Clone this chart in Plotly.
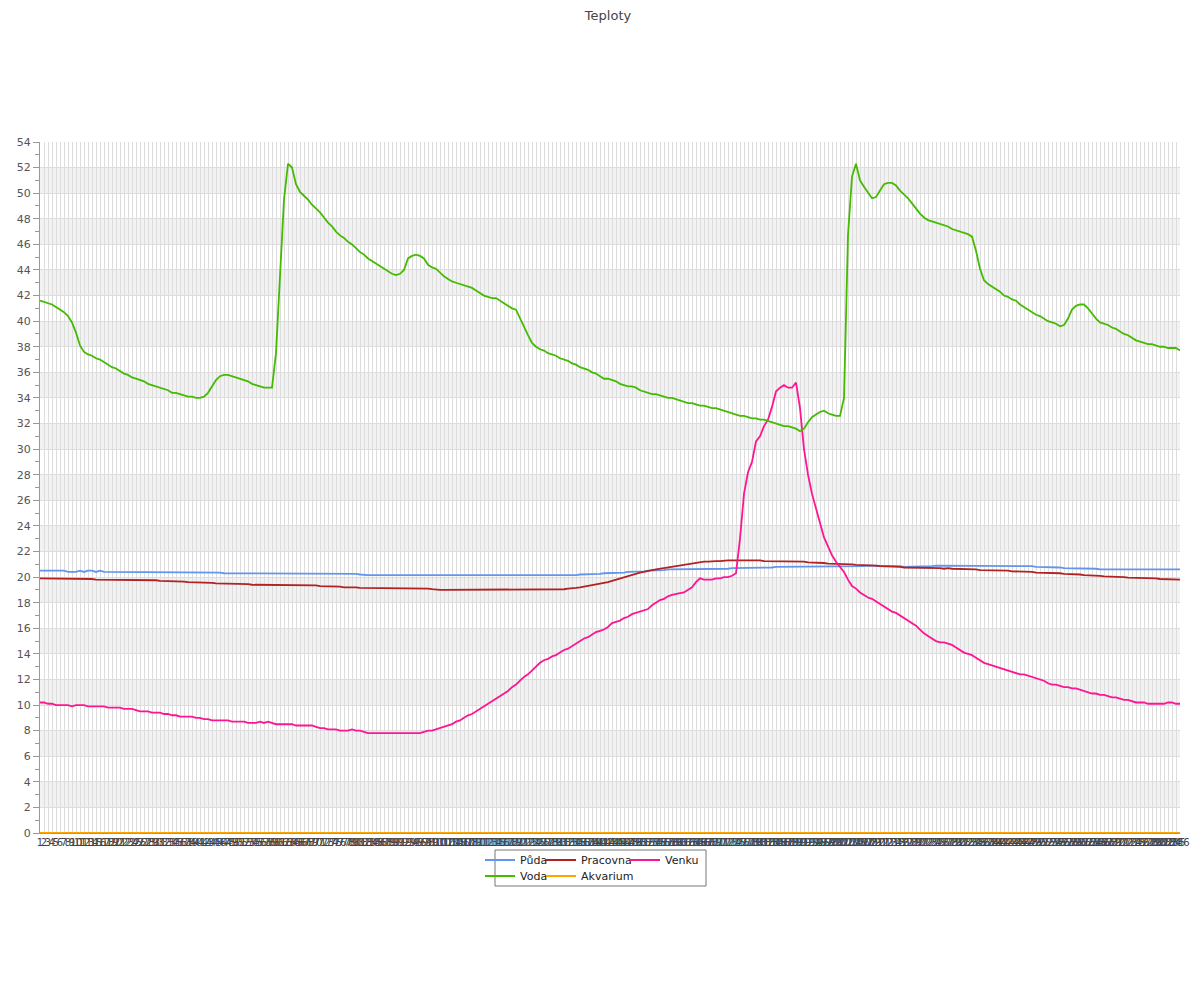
import plotly.graph_objects as go

categories = [str(i) for i in range(1, 287)]

puda = [
20.5,20.5,20.5,20.5,20.5,20.5,20.5,20.4,20.4,20.4,
20.5,20.4,20.5,20.5,20.4,20.5,20.4,20.4,20.4,20.4,
20.4,20.4,20.4,20.4,20.4,20.4,20.4,20.4,20.4,20.4,
20.4,20.4,20.4,20.35,20.4,20.35,20.4,20.35,20.35,20.35,
20.35,20.35,20.35,20.35,20.35,20.35,20.3,20.3,20.3,20.3,
20.3,20.3,20.3,20.3,20.3,20.3,20.3,20.3,20.3,20.3,
20.3,20.3,20.3,20.3,20.3,20.3,20.3,20.3,20.3,20.3,
20.3,20.3,20.3,20.25,20.25,20.25,20.25,20.25,20.25,20.25,
20.2,20.15,20.15,20.15,20.15,20.15,20.15,20.15,20.15,20.15,
20.15,20.1,20.1,20.1,20.1,20.1,20.1,20.1,20.1,20.1,
20.1,20.1,20.1,20.1,20.1,20.1,20.1,20.1,20.1,20.1,
20.1,20.1,20.1,20.1,20.1,20.1,20.1,20.1,20.1,20.1,
20.1,20.1,20.1,20.1,20.1,20.1,20.1,20.15,20.15,20.15,
20.15,20.15,20.15,20.15,20.15,20.2,20.2,20.2,20.2,20.25,
20.25,20.3,20.3,20.3,20.3,20.3,20.35,20.4,20.4,20.4,
20.45,20.45,20.5,20.5,20.5,20.55,20.55,20.6,20.6,20.6,
20.6,20.6,20.6,20.6,20.6,20.6,20.6,20.6,20.6,20.6,
20.6,20.65,20.65,20.7,20.7,20.75,20.7,20.75,20.75,20.75,
20.75,20.75,20.75,20.75,20.8,20.8,20.8,20.8,20.8,20.8,
20.8,20.8,20.8,20.8,20.8,20.8,20.8,20.8,20.8,20.8,
20.8,20.8,20.8,20.85,20.85,20.85,20.85,20.9,20.9,20.9,
20.9,20.9,20.9,20.9,20.85,20.85,20.8,20.8,20.8,20.8,
20.8,20.8,20.8,20.85,20.9,20.9,20.9,20.85,20.9,20.85,
20.9,20.9,20.9,20.9,20.9,20.9,20.9,20.9,20.9,20.85,
20.85,20.85,20.85,20.85,20.85,20.85,20.85,20.85,20.85,20.8,
20.8,20.8,20.8,20.75,20.75,20.75,20.7,20.7,20.7,20.7,
20.7,20.7,20.7,20.65,20.65,20.6,20.6,20.6,20.6,20.6,
20.6,20.6,20.6,20.6,20.6,20.6,20.6,20.6,20.6,20.6,
20.6,20.6,20.6,20.6,20.6,20.6,
]

pracovna = [
19.9,19.9,19.9,19.9,19.9,19.9,19.9,19.9,19.85,19.85,
19.85,19.85,19.85,19.85,19.8,19.8,19.8,19.8,19.8,19.8,
19.75,19.75,19.75,19.75,19.75,19.75,19.75,19.75,19.75,19.75,
19.7,19.7,19.7,19.65,19.65,19.65,19.65,19.6,19.6,19.6,
19.55,19.55,19.55,19.55,19.5,19.5,19.5,19.5,19.5,19.45,
19.45,19.45,19.45,19.4,19.4,19.4,19.4,19.4,19.4,19.4,
19.4,19.4,19.4,19.4,19.4,19.4,19.4,19.35,19.35,19.35,
19.3,19.3,19.3,19.25,19.25,19.25,19.2,19.2,19.25,19.2,
19.15,19.15,19.1,19.1,19.1,19.1,19.1,19.1,19.1,19.1,
19.1,19.1,19.1,19.1,19.1,19.1,19.1,19.1,19.05,19.0,
19.0,19.0,19.0,19.0,19.0,19.0,19.0,19.0,19.0,19.0,
19.0,19.0,19.0,19.0,19.0,19.0,19.0,19.0,19.0,19.0,
19.0,19.0,19.05,19.05,19.05,19.05,19.05,19.05,19.05,19.05,
19.05,19.05,19.1,19.1,19.15,19.2,19.25,19.3,19.35,19.4,
19.5,19.55,19.6,19.7,19.8,19.9,20.0,20.1,20.2,20.3,
20.35,20.4,20.5,20.55,20.6,20.65,20.7,20.8,20.85,20.9,
20.95,21.0,21.05,21.1,21.15,21.2,21.2,21.2,21.25,21.25,
21.25,21.3,21.3,21.3,21.3,21.3,21.3,21.35,21.3,21.3,
21.3,21.25,21.25,21.25,21.25,21.25,21.25,21.25,21.25,21.25,
21.2,21.2,21.15,21.15,21.1,21.1,21.1,21.05,21.05,21.05,
21.0,21.0,21.0,21.0,20.95,20.95,20.95,20.9,20.9,20.9,
20.85,20.85,20.85,20.8,20.8,20.8,20.75,20.75,20.75,20.7,
20.7,20.7,20.7,20.7,20.7,20.7,20.65,20.7,20.65,20.65,
20.6,20.6,20.6,20.6,20.6,20.55,20.55,20.55,20.55,20.5,
20.5,20.5,20.5,20.45,20.45,20.45,20.4,20.4,20.4,20.35,
20.35,20.35,20.3,20.3,20.3,20.3,20.25,20.25,20.2,20.2,
20.2,20.15,20.15,20.1,20.1,20.1,20.05,20.05,20.05,20.0,
20.0,20.0,19.95,19.95,19.95,19.9,19.9,19.9,19.9,19.9,
19.85,19.85,19.85,19.8,19.8,19.8,
]

venku = [
10.2,10.2,10.1,10.1,10.0,10.0,10.0,10.0,9.9,10.0,
10.0,10.0,9.9,9.9,9.9,9.9,9.9,9.8,9.8,9.8,
9.8,9.7,9.7,9.7,9.6,9.5,9.5,9.5,9.4,9.4,
9.4,9.3,9.3,9.2,9.2,9.1,9.1,9.1,9.1,9.0,
9.0,8.9,8.9,8.8,8.8,8.8,8.8,8.8,8.7,8.7,
8.7,8.7,8.6,8.6,8.6,8.7,8.6,8.7,8.6,8.5,
8.5,8.5,8.5,8.5,8.4,8.4,8.4,8.4,8.4,8.3,
8.2,8.2,8.1,8.1,8.1,8.0,8.0,8.0,8.1,8.0,
8.0,7.9,7.8,7.8,7.8,7.8,7.8,7.8,7.8,7.8,
7.8,7.8,7.8,7.8,7.8,7.8,7.9,8.0,8.0,8.1,
8.2,8.3,8.4,8.5,8.7,8.8,9.0,9.2,9.3,9.5,
9.7,9.9,10.1,10.3,10.5,10.7,10.9,11.1,11.4,11.6,
11.9,12.2,12.4,12.7,13.0,13.3,13.5,13.6,13.8,13.9,
14.1,14.3,14.4,14.6,14.8,15.0,15.2,15.3,15.5,15.7,
15.8,15.9,16.1,16.4,16.5,16.6,16.8,16.9,17.1,17.2,
17.3,17.4,17.5,17.8,18.0,18.2,18.3,18.5,18.6,18.7,
18.75,18.8,19.0,19.2,19.6,19.9,19.8,19.8,19.8,19.9,
19.9,20.0,20.0,20.1,20.3,23.0,26.5,28.2,29.0,30.6,
31.0,31.8,32.3,33.3,34.5,34.8,35.0,34.8,34.8,35.2,
33.2,30.0,28.0,26.5,25.3,24.3,23.1,22.4,21.7,21.2,
20.8,20.4,19.8,19.3,19.1,18.8,18.6,18.4,18.3,18.1,
17.9,17.7,17.5,17.3,17.2,17.0,16.8,16.6,16.4,16.2,
15.9,15.6,15.4,15.2,15.0,14.9,14.9,14.8,14.7,14.5,
14.3,14.1,14.0,13.9,13.7,13.5,13.3,13.2,13.1,13.0,
12.9,12.8,12.7,12.6,12.5,12.4,12.4,12.3,12.2,12.1,
12.0,11.9,11.7,11.6,11.6,11.5,11.4,11.4,11.3,11.3,
11.2,11.1,11.0,10.9,10.9,10.8,10.8,10.7,10.6,10.6,
10.5,10.4,10.4,10.3,10.2,10.2,10.2,10.1,10.1,10.1,
10.1,10.1,10.2,10.2,10.1,10.1,
]

voda = [
41.6,41.5,41.4,41.3,41.1,40.9,40.7,40.4,39.9,39.1,
38.1,37.6,37.4,37.3,37.1,37.0,36.8,36.6,36.4,36.3,
36.1,35.9,35.8,35.6,35.5,35.4,35.3,35.1,35.0,34.9,
34.8,34.7,34.6,34.4,34.4,34.3,34.2,34.1,34.1,34.0,
34.0,34.1,34.4,34.9,35.4,35.7,35.8,35.8,35.7,35.6,
35.5,35.4,35.3,35.1,35.0,34.9,34.8,34.8,34.8,37.5,
44.0,49.5,52.3,52.0,50.7,50.1,49.8,49.5,49.1,48.8,
48.5,48.1,47.7,47.4,47.0,46.7,46.5,46.2,46.0,45.7,
45.4,45.2,44.9,44.7,44.5,44.3,44.1,43.9,43.7,43.6,
43.7,44.0,44.9,45.1,45.2,45.1,44.9,44.4,44.2,44.1,
43.8,43.5,43.3,43.1,43.0,42.9,42.8,42.7,42.6,42.4,
42.2,42.0,41.9,41.8,41.8,41.6,41.4,41.2,41.0,40.9,
40.2,39.5,38.9,38.3,38.0,37.8,37.7,37.5,37.4,37.3,
37.1,37.0,36.9,36.7,36.6,36.4,36.3,36.2,36.0,35.9,
35.7,35.5,35.5,35.4,35.3,35.1,35.0,34.9,34.9,34.8,
34.6,34.5,34.4,34.3,34.3,34.2,34.1,34.0,34.0,33.9,
33.8,33.7,33.6,33.6,33.5,33.4,33.4,33.3,33.2,33.2,
33.1,33.0,32.9,32.8,32.7,32.6,32.6,32.5,32.4,32.4,
32.3,32.3,32.2,32.1,32.0,31.9,31.8,31.8,31.7,31.6,
31.4,31.6,32.1,32.5,32.7,32.9,33.0,32.8,32.7,32.6,
32.6,34.0,46.7,51.3,52.3,51.0,50.5,50.0,49.6,49.7,
50.2,50.7,50.8,50.8,50.6,50.2,49.9,49.6,49.2,48.8,
48.4,48.1,47.9,47.8,47.7,47.6,47.5,47.4,47.2,47.1,
47.0,46.9,46.8,46.6,45.5,44.1,43.2,42.9,42.7,42.5,
42.3,42.0,41.9,41.7,41.6,41.3,41.1,40.9,40.7,40.5,
40.4,40.2,40.0,39.9,39.8,39.6,39.7,40.2,40.9,41.2,
41.3,41.3,41.0,40.6,40.2,39.9,39.8,39.7,39.5,39.4,
39.2,39.0,38.9,38.7,38.5,38.4,38.3,38.2,38.2,38.1,
38.0,38.0,37.9,37.9,37.9,37.7,
]

akvarium = [0] * len(categories)

series = [
    ("Půda", puda, "#6495ed", "legend"),
    ("Pracovna", pracovna, "#b22222", "legend2"),
    ("Venku", venku, "#ff1493", "legend3"),
    ("Voda", voda, "#44bb00", "legend4"),
    ("Akvarium", akvarium, "#ffa500", "legend5"),
]

fig = go.Figure()
for name, vals, color, leg in series:
    fig.add_trace(go.Scatter(
        x=categories, y=vals, mode="lines", name=name,
        line=dict(color=color, width=1.8), legend=leg,
        cliponaxis=False,
    ))

# alternating bands
shapes = []
for k in range(13):
    shapes.append(dict(type="rect", xref="paper", yref="y", x0=0, x1=1,
                       y0=2 + 4 * k, y1=4 + 4 * k, fillcolor="#f2f2f2",
                       line=dict(width=0), layer="below"))

# page-pixel -> paper helpers (plot area spans x 40..1180, y 142..833 on the page)
W, H = 1140.0, 691.0
def px(x): return (x - 40) / W
def py(y): return (833 - y) / H

shapes.append(dict(type="rect", xref="paper", yref="paper",
                   x0=px(495), x1=px(706), y0=py(850), y1=py(886),
                   line=dict(color="#777777", width=1), fillcolor="rgba(0,0,0,0)"))

leg_font = dict(family="DejaVu Sans", size=11, color="#222222")
def legcfg(tx, ty):
    return dict(x=px(tx - 40), y=py(ty), xanchor="left", yanchor="middle",
                bgcolor="rgba(0,0,0,0)", borderwidth=0, font=leg_font,
                orientation="h", itemwidth=30, tracegroupgap=0)

fig.update_layout(
    width=1200, height=1000,
    paper_bgcolor="white", plot_bgcolor="white",
    font=dict(family="DejaVu Sans", size=11, color="#444444"),
    title=dict(text="Teploty", x=0.5, xanchor="center", y=0.997, yanchor="top",
               pad=dict(t=0, b=0),
               font=dict(family="DejaVu Sans", size=13, color="#444444")),
    margin=dict(l=32, r=28, t=134, b=175),
    shapes=shapes,
    showlegend=True,
    legend=legcfg(520, 860),
    legend2=legcfg(581, 860),
    legend3=legcfg(665, 860),
    legend4=legcfg(520, 876),
    legend5=legcfg(581, 876),
    xaxis=dict(
        type="category", range=[0, len(categories) - 1],
        tickmode="linear", dtick=1, tickangle=0,
        showgrid=True, gridcolor="#dddddd", gridwidth=1,
        showline=True, linecolor="#999999", linewidth=1,
        ticks="", tickfont=dict(family="DejaVu Sans", size=10, color="#444444"),
        zeroline=False, automargin=False,
    ),
    yaxis=dict(
        range=[0, 54], tickmode="linear", tick0=0, dtick=2,
        showgrid=True, gridcolor="#dddddd", gridwidth=1,
        showline=True, linecolor="#999999", linewidth=1,
        ticks="outside", ticklen=6, tickcolor="#999999",
        minor=dict(dtick=1, ticks="outside", ticklen=4, tickcolor="#999999", showgrid=False),
        tickfont=dict(family="DejaVu Sans", size=11, color="#555555"),
        zeroline=False, automargin=False,
    ),
)

fig.write_html("out.html")
